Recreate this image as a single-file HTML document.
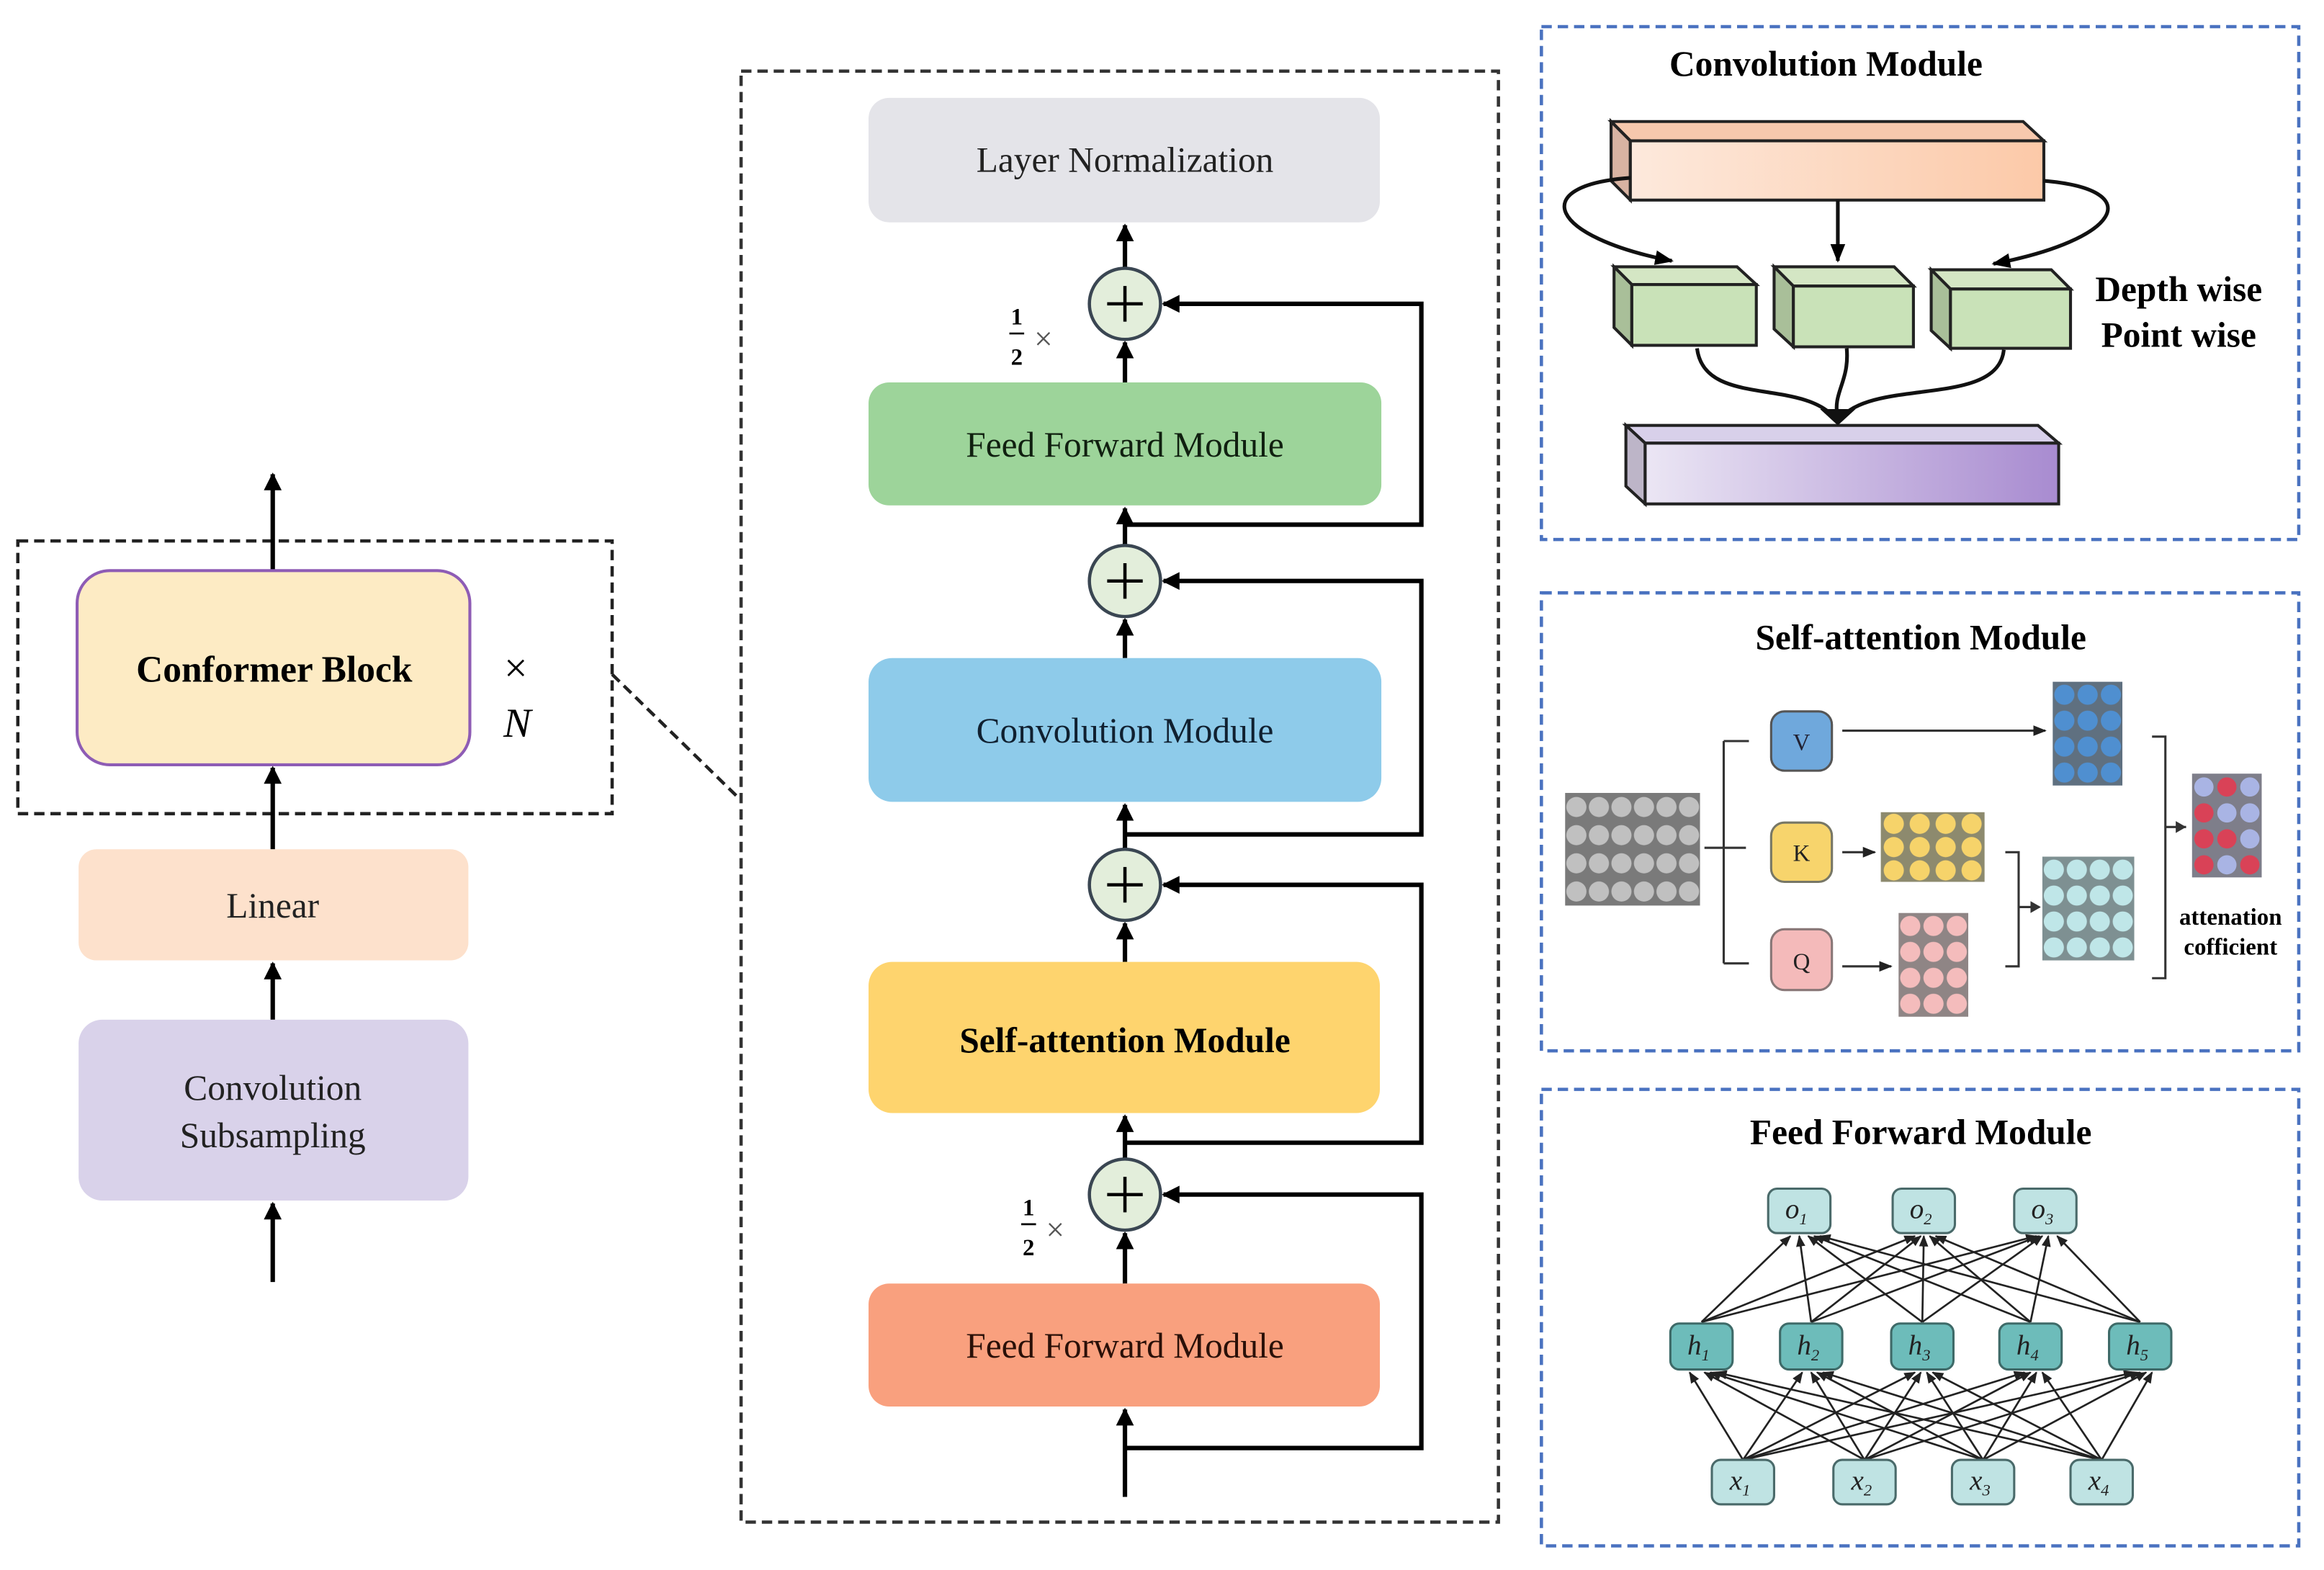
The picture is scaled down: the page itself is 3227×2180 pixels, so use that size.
<!DOCTYPE html>
<html><head><meta charset="utf-8"><style>html,body{margin:0;padding:0;background:#fff}svg{display:block}</style></head>
<body>
<svg width="3227" height="2180" viewBox="0 0 1568 1059.3" xmlns="http://www.w3.org/2000/svg" font-family="Liberation Serif, serif">
<defs>
<marker id="ah" viewBox="0 0 10 10" refX="9" refY="5" markerWidth="4" markerHeight="4" orient="auto"><path d="M0,0L10,5L0,10z" fill="#000"/></marker>
<marker id="as" viewBox="0 0 10 10" refX="9" refY="5" markerWidth="6" markerHeight="6" orient="auto"><path d="M0,1L10,5L0,9z" fill="#222"/></marker>
<marker id="at" viewBox="0 0 10 10" refX="9" refY="5" markerWidth="5" markerHeight="5" orient="auto"><path d="M0,1L10,5L0,9z" fill="#000"/></marker>
<pattern id="pg" x="1056" y="535" width="15.2" height="19" patternUnits="userSpaceOnUse"><rect width="15.2" height="19" fill="#7a7a7a"/><circle cx="7.6" cy="9.5" r="6.8" fill="#c0c0c0"/></pattern>
<pattern id="pv" x="1385" y="460" width="15.7" height="17.5" patternUnits="userSpaceOnUse"><rect width="15.7" height="17.5" fill="#5f7080"/><circle cx="7.85" cy="8.75" r="6.8" fill="#4f8fd0"/></pattern>
<pattern id="pk" x="1269" y="548" width="17.5" height="15.7" patternUnits="userSpaceOnUse"><rect width="17.5" height="15.7" fill="#8d8a6e"/><circle cx="8.75" cy="7.85" r="6.8" fill="#f6d36a"/></pattern>
<pattern id="pq" x="1281" y="616" width="15.7" height="17.5" patternUnits="userSpaceOnUse"><rect width="15.7" height="17.5" fill="#8f8585"/><circle cx="7.85" cy="8.75" r="6.8" fill="#f4bcbc"/></pattern>
<pattern id="pc" x="1378" y="578" width="15.5" height="17.5" patternUnits="userSpaceOnUse"><rect width="15.5" height="17.5" fill="#7e9092"/><circle cx="7.75" cy="8.75" r="6.8" fill="#bfe6e8"/></pattern>
<linearGradient id="go" x1="0" x2="1"><stop offset="0" stop-color="#fde9dc"/><stop offset="1" stop-color="#fcc9a8"/></linearGradient>
<linearGradient id="gp" x1="0" x2="1"><stop offset="0" stop-color="#ebe6f4"/><stop offset="1" stop-color="#a88bd0"/></linearGradient>
</defs>

<rect x="12" y="365" width="401" height="184" fill="none" stroke="#222" stroke-width="2.2" stroke-dasharray="7,4"/>
<line x1="184" y1="385" x2="184" y2="320" stroke="#000" stroke-width="3" marker-end="url(#ah)"/>
<rect x="52" y="385" width="265" height="131" rx="22" fill="#fdebc4" stroke="#8e5cb5" stroke-width="2"/>
<text x="185" y="460" font-size="25" font-weight="bold" text-anchor="middle">Conformer Block</text>
<text x="348" y="460" font-size="28" text-anchor="middle">×</text>
<text x="349" y="497" font-size="28" font-style="italic" text-anchor="middle">N</text>
<line x1="184" y1="573" x2="184" y2="518" stroke="#000" stroke-width="3" marker-end="url(#ah)"/>
<rect x="53" y="573" width="263" height="75" rx="12" fill="#fde1cc"/>
<text x="184" y="619" font-size="24" text-anchor="middle" fill="#222">Linear</text>
<line x1="184" y1="688" x2="184" y2="650" stroke="#000" stroke-width="3" marker-end="url(#ah)"/>
<rect x="53" y="688" width="263" height="122" rx="16" fill="#d9d2ea"/>
<text x="184" y="742" font-size="24" text-anchor="middle" fill="#222">Convolution</text>
<text x="184" y="774" font-size="24" text-anchor="middle" fill="#222">Subsampling</text>
<line x1="184" y1="865" x2="184" y2="812" stroke="#000" stroke-width="3" marker-end="url(#ah)"/>
<line x1="413" y1="455" x2="500" y2="540" stroke="#222" stroke-width="2.2" stroke-dasharray="7,4"/>

<rect x="500" y="48" width="511" height="979" fill="none" stroke="#333" stroke-width="2.2" stroke-dasharray="7,4"/>
<rect x="586" y="66" width="345" height="84" rx="14" fill="#e4e4e9"/>
<text x="759" y="116" font-size="24" text-anchor="middle" fill="#222">Layer Normalization</text>
<g stroke="#000" stroke-width="3" fill="none">
<line x1="759" y1="181" x2="759" y2="152" marker-end="url(#ah)"/>
<line x1="759" y1="258" x2="759" y2="231" marker-end="url(#ah)"/>
<line x1="759" y1="368" x2="759" y2="343" marker-end="url(#ah)"/>
<line x1="759" y1="444" x2="759" y2="418" marker-end="url(#ah)"/>
<line x1="759" y1="573" x2="759" y2="543" marker-end="url(#ah)"/>
<line x1="759" y1="649" x2="759" y2="623" marker-end="url(#ah)"/>
<line x1="759" y1="782" x2="759" y2="753" marker-end="url(#ah)"/>
<line x1="759" y1="866" x2="759" y2="832" marker-end="url(#ah)"/>
<line x1="759" y1="1010" x2="759" y2="951" marker-end="url(#ah)"/>
<polyline points="759,354 959,354 959,205 785,205" marker-end="url(#ah)"/>
<polyline points="759,563 959,563 959,392 785,392" marker-end="url(#ah)"/>
<polyline points="759,771 959,771 959,597 785,597" marker-end="url(#ah)"/>
<polyline points="759,977 959,977 959,806 785,806" marker-end="url(#ah)"/>
</g>
<g fill="#e3eedb" stroke="#3a4652" stroke-width="2.2">
<circle cx="759" cy="205" r="24"/><circle cx="759" cy="392" r="24"/><circle cx="759" cy="597" r="24"/><circle cx="759" cy="806" r="24"/>
</g>
<g stroke="#000" stroke-width="2.2">
<path d="M747,205H771M759,193V217"/><path d="M747,392H771M759,380V404"/><path d="M747,597H771M759,585V609"/><path d="M747,806H771M759,794V818"/>
</g>
<rect x="586" y="258" width="346" height="83" rx="14" fill="#9dd49a"/>
<text x="759" y="308" font-size="24" text-anchor="middle" fill="#102010">Feed Forward Module</text>
<rect x="586" y="444" width="346" height="97" rx="16" fill="#8ecbea"/>
<text x="759" y="501" font-size="24" text-anchor="middle" fill="#102030">Convolution Module</text>
<rect x="586" y="649" width="345" height="102" rx="16" fill="#fed46e"/>
<text x="759" y="710" font-size="24" font-weight="bold" text-anchor="middle">Self-attention Module</text>
<rect x="586" y="866" width="345" height="83" rx="14" fill="#f9a07e"/>
<text x="759" y="916" font-size="24" text-anchor="middle" fill="#2a1008">Feed Forward Module</text>
<g font-size="16" font-weight="bold" text-anchor="middle">
<text x="686" y="219">1</text><line x1="681" y1="225" x2="691" y2="225" stroke="#000" stroke-width="1.3"/><text x="686" y="246">2</text>
<text x="694" y="820">1</text><line x1="689" y1="826" x2="699" y2="826" stroke="#000" stroke-width="1.3"/><text x="694" y="847">2</text>
</g>
<text x="704" y="236" font-size="22" fill="#555" text-anchor="middle">×</text>
<text x="712" y="837" font-size="22" fill="#555" text-anchor="middle">×</text>

<g fill="none" stroke="#4a72c0" stroke-width="2.2" stroke-dasharray="7,4">
<rect x="1040" y="18" width="511" height="346"/>
<rect x="1040" y="400" width="511" height="309"/>
<rect x="1040" y="735" width="511" height="308"/>
</g>
<text x="1232" y="51" font-size="24" font-weight="bold" text-anchor="middle">Convolution Module</text>
<text x="1296" y="438" font-size="24" font-weight="bold" text-anchor="middle">Self-attention Module</text>
<text x="1296" y="772" font-size="24" font-weight="bold" text-anchor="middle">Feed Forward Module</text>

<g stroke="#222" stroke-width="2">
<polygon points="1087,82 1365,82 1379,95 1100,95" fill="#f6c8ad"/>
<polygon points="1087,82 1100,95 1100,135 1087,122" fill="#d8b3a2"/>
<rect x="1100" y="95" width="279" height="40" fill="url(#go)"/>
<polygon points="1089,180 1172,180 1185,192 1101,192" fill="#d4e6c4"/>
<polygon points="1089,180 1101,192 1101,233 1089,221" fill="#a9bf99"/>
<rect x="1101" y="192" width="84" height="41" fill="#c9e2b8"/>
<polygon points="1197,180 1278,180 1291,193 1210,193" fill="#d4e6c4"/>
<polygon points="1197,180 1210,193 1210,234 1197,222" fill="#a9bf99"/>
<rect x="1210" y="193" width="81" height="41" fill="#c9e2b8"/>
<polygon points="1303,182 1384,182 1397,195 1316,195" fill="#d4e6c4"/>
<polygon points="1303,182 1316,195 1316,235 1303,223" fill="#a9bf99"/>
<rect x="1316" y="195" width="81" height="40" fill="#c9e2b8"/>
<polygon points="1097,287 1375,287 1389,299 1110,299" fill="#d8d0ea"/>
<polygon points="1097,287 1110,299 1110,340 1097,328" fill="#bdb5c8"/>
<rect x="1110" y="299" width="279" height="41" fill="url(#gp)"/>
</g>
<g fill="none" stroke="#111" stroke-width="2.5">
<path d="M1100,120 C1030,125 1045,160 1128,176" marker-end="url(#at)"/>
<line x1="1240" y1="135" x2="1240" y2="176" marker-end="url(#at)"/>
<path d="M1379,122 C1450,128 1430,162 1345,178" marker-end="url(#at)"/>
<path d="M1145,235 C1150,275 1215,255 1238,282"/>
<path d="M1246,235 C1248,258 1236,265 1240,282"/>
<path d="M1352,236 C1348,275 1265,255 1242,282"/>
</g>
<path d="M1228,276 L1252,276 L1240,287z" fill="#111"/>
<text x="1470" y="203" font-size="24" font-weight="bold" text-anchor="middle">Depth wise</text>
<text x="1470" y="234" font-size="24" font-weight="bold" text-anchor="middle">Point wise</text>

<rect x="1056" y="535" width="91" height="76" fill="url(#pg)"/>
<g fill="none" stroke="#333" stroke-width="1.5">
<path d="M1150,572H1178M1163,500V650M1163,500H1180M1163,650H1180"/>
<line x1="1243" y1="493" x2="1380" y2="493" marker-end="url(#as)"/>
<line x1="1243" y1="575" x2="1265" y2="575" marker-end="url(#as)"/>
<line x1="1243" y1="652" x2="1276" y2="652" marker-end="url(#as)"/>
<path d="M1353,575H1362V652H1353M1362,612H1376" />
<path d="M1452,497H1461V660H1452M1461,558H1475"/>
</g>
<path d="M1370,608L1377,612L1370,616z M1468,554L1475,558L1468,562z" fill="#333"/>
<rect x="1195" y="480" width="41" height="40" rx="9" fill="#6fa8dc" stroke="#555" stroke-width="1.5"/>
<text x="1215.5" y="506" font-size="16" text-anchor="middle" fill="#223">V</text>
<rect x="1195" y="555" width="41" height="40" rx="9" fill="#f7d46c" stroke="#776" stroke-width="1.5"/>
<text x="1215.5" y="581" font-size="16" text-anchor="middle" fill="#222">K</text>
<rect x="1195" y="627" width="41" height="41" rx="9" fill="#f4baba" stroke="#877" stroke-width="1.5"/>
<text x="1215.5" y="654" font-size="16" text-anchor="middle" fill="#222">Q</text>
<rect x="1385" y="460" width="47" height="70" fill="url(#pv)"/>
<rect x="1269" y="548" width="70" height="47" fill="url(#pk)"/>
<rect x="1281" y="616" width="47" height="70" fill="url(#pq)"/>
<rect x="1378" y="578" width="62" height="70" fill="url(#pc)"/>
<rect x="1479" y="522" width="47" height="70" fill="#7e7e8a"/>
<g>
<circle cx="1487" cy="531" r="6.5" fill="#a9b4e4"/><circle cx="1502.5" cy="531" r="6.5" fill="#d94257"/><circle cx="1518" cy="531" r="6.5" fill="#a9b4e4"/>
<circle cx="1487" cy="548.5" r="6.5" fill="#d94257"/><circle cx="1502.5" cy="548.5" r="6.5" fill="#a9b4e4"/><circle cx="1518" cy="548.5" r="6.5" fill="#a9b4e4"/>
<circle cx="1487" cy="566" r="6.5" fill="#d94257"/><circle cx="1502.5" cy="566" r="6.5" fill="#d94257"/><circle cx="1518" cy="566" r="6.5" fill="#a9b4e4"/>
<circle cx="1487" cy="583.5" r="6.5" fill="#d94257"/><circle cx="1502.5" cy="583.5" r="6.5" fill="#a9b4e4"/><circle cx="1518" cy="583.5" r="6.5" fill="#d94257"/>
</g>
<text x="1505" y="624" font-size="16" font-weight="bold" text-anchor="middle">attenation</text>
<text x="1505" y="644" font-size="16" font-weight="bold" text-anchor="middle">cofficient</text>

<g stroke="#222" stroke-width="1.3" marker-end="url(#as)">
<line x1="1148" y1="892" x2="1208" y2="834"/><line x1="1148" y1="892" x2="1292" y2="834"/><line x1="1148" y1="892" x2="1374" y2="834"/>
<line x1="1222" y1="892" x2="1214" y2="834"/><line x1="1222" y1="892" x2="1296" y2="834"/><line x1="1222" y1="892" x2="1376" y2="834"/>
<line x1="1297" y1="892" x2="1220" y2="834"/><line x1="1297" y1="892" x2="1298" y2="834"/><line x1="1297" y1="892" x2="1378" y2="834"/>
<line x1="1370" y1="892" x2="1224" y2="834"/><line x1="1370" y1="892" x2="1302" y2="834"/><line x1="1370" y1="892" x2="1382" y2="834"/>
<line x1="1444" y1="892" x2="1228" y2="834"/><line x1="1444" y1="892" x2="1306" y2="834"/><line x1="1444" y1="892" x2="1388" y2="834"/>
<line x1="1176" y1="985" x2="1140" y2="926"/><line x1="1176" y1="985" x2="1216" y2="926"/><line x1="1176" y1="985" x2="1292" y2="926"/><line x1="1176" y1="985" x2="1366" y2="926"/><line x1="1176" y1="985" x2="1440" y2="926"/>
<line x1="1258" y1="985" x2="1150" y2="926"/><line x1="1258" y1="985" x2="1222" y2="926"/><line x1="1258" y1="985" x2="1296" y2="926"/><line x1="1258" y1="985" x2="1370" y2="926"/><line x1="1258" y1="985" x2="1444" y2="926"/>
<line x1="1338" y1="985" x2="1154" y2="926"/><line x1="1338" y1="985" x2="1226" y2="926"/><line x1="1338" y1="985" x2="1300" y2="926"/><line x1="1338" y1="985" x2="1374" y2="926"/><line x1="1338" y1="985" x2="1448" y2="926"/>
<line x1="1418" y1="985" x2="1158" y2="926"/><line x1="1418" y1="985" x2="1230" y2="926"/><line x1="1418" y1="985" x2="1304" y2="926"/><line x1="1418" y1="985" x2="1378" y2="926"/><line x1="1418" y1="985" x2="1452" y2="926"/>
</g>
<g fill="#bfe3e3" stroke="#4a6a6a" stroke-width="1.5">
<rect x="1193" y="802" width="42" height="30" rx="6"/><rect x="1277" y="802" width="42" height="30" rx="6"/><rect x="1359" y="802" width="42" height="30" rx="6"/>
<rect x="1155" y="985" width="42" height="30" rx="6"/><rect x="1237" y="985" width="42" height="30" rx="6"/><rect x="1317" y="985" width="42" height="30" rx="6"/><rect x="1397" y="985" width="42" height="30" rx="6"/>
</g>
<g fill="#6dbcba" stroke="#3e6a68" stroke-width="1.5">
<rect x="1127" y="893" width="42" height="31" rx="6"/><rect x="1201" y="893" width="42" height="31" rx="6"/><rect x="1276" y="893" width="42" height="31" rx="6"/><rect x="1349" y="893" width="42" height="31" rx="6"/><rect x="1423" y="893" width="42" height="31" rx="6"/>
</g>
<g font-size="19" font-style="italic" text-anchor="middle" fill="#222">
<text x="1212" y="822">o<tspan font-size="11" dy="4">1</tspan></text>
<text x="1296" y="822">o<tspan font-size="11" dy="4">2</tspan></text>
<text x="1378" y="822">o<tspan font-size="11" dy="4">3</tspan></text>
<text x="1146" y="914">h<tspan font-size="11" dy="4">1</tspan></text>
<text x="1220" y="914">h<tspan font-size="11" dy="4">2</tspan></text>
<text x="1295" y="914">h<tspan font-size="11" dy="4">3</tspan></text>
<text x="1368" y="914">h<tspan font-size="11" dy="4">4</tspan></text>
<text x="1442" y="914">h<tspan font-size="11" dy="4">5</tspan></text>
<text x="1174" y="1005">x<tspan font-size="11" dy="4">1</tspan></text>
<text x="1256" y="1005">x<tspan font-size="11" dy="4">2</tspan></text>
<text x="1336" y="1005">x<tspan font-size="11" dy="4">3</tspan></text>
<text x="1416" y="1005">x<tspan font-size="11" dy="4">4</tspan></text>
</g>
</svg>
</body></html>
